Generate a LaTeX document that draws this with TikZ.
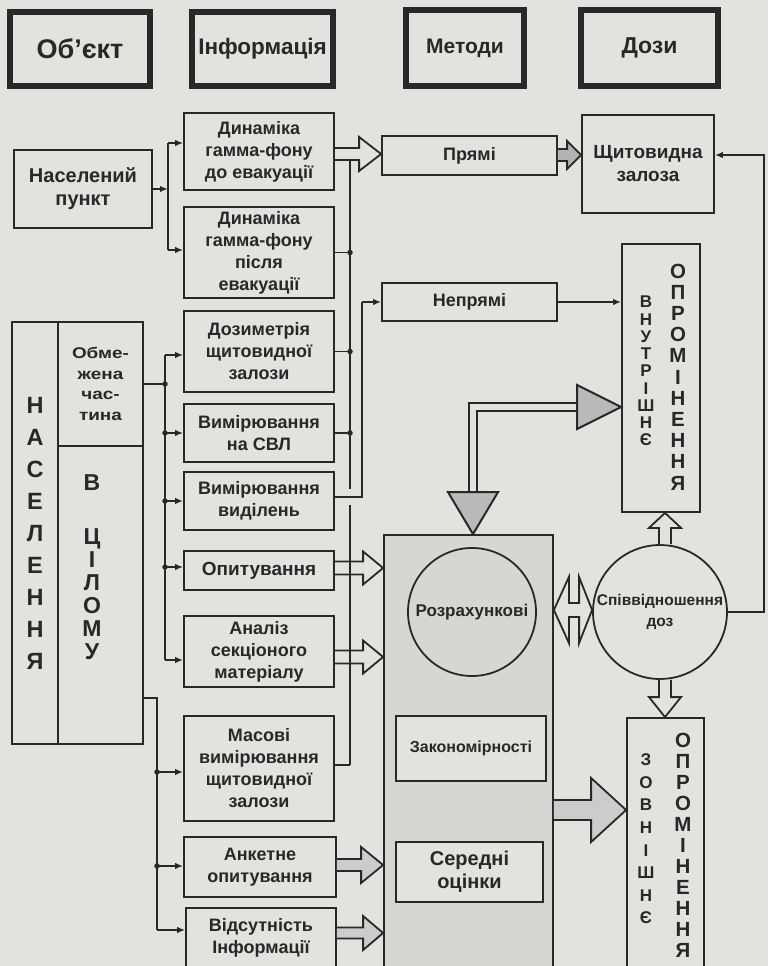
\documentclass[tikz,border=0pt]{standalone}
\usepackage{fontspec}
\setmainfont{Liberation Sans}
\usetikzlibrary{arrows.meta,calc}
\definecolor{bg}{RGB}{226,226,223}
\definecolor{ink}{RGB}{40,40,40}
\definecolor{calcbg}{RGB}{214,214,211}
\newcommand\fs[2]{\fontsize{#1}{#2}\selectfont\bfseries}
\newcommand\bx[6][]{\node[box,#1,minimum width={(#5-#3)*1pt},minimum height={(#6-#4)*1pt}] (#2) at ({(#3+#5)/2},{(#4+#6)/2})}
% hollow block arrows
\newcommand\arrR[7][]{\draw[hollow,#1] let \p1=#2, \p2=#3, \p3=#4 in (\x1,\y3+#5) -- (\x2-#7,\y3+#5) -- (\x2-#7,\y3+#6) -- (\x2,\y3) -- (\x2-#7,\y3-#6) -- (\x2-#7,\y3-#5) -- (\x1,\y3-#5);}
\newcommand\arrU[7][]{\draw[hollow,#1] let \p1=#2, \p2=#3, \p3=#4 in (\x3+#5,\y1) -- (\x3+#5,\y2-#7) -- (\x3+#6,\y2-#7) -- (\x3,\y2) -- (\x3-#6,\y2-#7) -- (\x3-#5,\y2-#7) -- (\x3-#5,\y1);}
\newcommand\arrD[7][]{\draw[hollow,#1] let \p1=#2, \p2=#3, \p3=#4 in (\x3+#5,\y1) -- (\x3+#5,\y2+#7) -- (\x3+#6,\y2+#7) -- (\x3,\y2) -- (\x3-#6,\y2+#7) -- (\x3-#5,\y2+#7) -- (\x3-#5,\y1);}
\newcommand\arrLR[8][]{\draw[hollow,#1] let \p1=#2, \p2=#3, \p3=#4 in (\x1,\y3) -- (\x1+#7,\y3+#6) -- (\x1+#7,\y3+#5) -- (\x2-#8,\y3+#5) -- (\x2-#8,\y3+#6) -- (\x2,\y3) -- (\x2-#8,\y3-#6) -- (\x2-#8,\y3-#5) -- (\x1+#7,\y3-#5) -- (\x1+#7,\y3-#6) -- cycle;}
\begin{document}
\begin{tikzpicture}[x=1pt,y=-1pt,line width=1.8pt,color=ink,
  box/.style={draw,fill=bg,align=center,inner sep=0pt,font=\fs{18}{22}},
  hdr/.style={box,line width=5.5pt},
  arr/.style={-{Latex[length=8pt,width=6.5pt]}},
  hollow/.style={draw,line width=1.8pt,line join=miter},
  dot/.style={circle,fill,inner sep=0pt,minimum size=5.5pt},
  txt/.style={inner sep=0pt,align=center}]
\useasboundingbox (0,0) rectangle (768,966);
\clip (0,0) rectangle (768,966);
\fill[bg] (0,0) rectangle (768,966);

% headers
\bx[hdr,font=\fs{27}{30}]{hobj}{10}{12}{150}{86}{Об’єкт};
\bx[hdr,font=\fs{22.5}{25}]{hinf}{192}{12}{333}{86}{Інформація};
\bx[hdr,font=\fs{21}{24}]{hmet}{406}{10}{524}{86}{Методи};
\bx[hdr,font=\fs{23}{26}]{hdoz}{581}{10}{718}{86}{Дози};

% object column
\bx[font=\fs{20}{23}]{np}{14}{150}{152}{228}{Населений\\пункт};
\bx[font=\fs{23.5}{32}]{nas}{12}{322}{58}{744}{Н\\А\\С\\Е\\Л\\Е\\Н\\Н\\Я};
\bx[font=\fs{15.5}{20.5}\addfontfeature{FakeStretch=1.22}]{obm}{58}{322}{143}{446}{Обме-\\жена\\час-\\тина};
\bx{vc}{58}{446}{143}{744}{};
\node[txt,font=\fs{23}{23}] (vcB) at (92,483) {В};
\node[txt,font=\fs{23}{23}] (vcC) at (92,594) {Ц\\І\\Л\\О\\М\\У};

% information column
\bx{d1}{184}{113}{334}{190}{Динаміка\\гамма-фону\\до евакуації};
\bx{d2}{184}{207}{334}{298}{Динаміка\\гамма-фону\\після\\евакуації};
\bx{dz}{184}{311}{334}{392}{Дозиметрія\\щитовидної\\залози};
\bx{svl}{184}{404}{334}{462}{Вимірювання\\на СВЛ};
\bx{vyd}{184}{472}{334}{530}{Вимірювання\\виділень};
\bx[font=\fs{19}{22}]{opyt}{184}{551}{334}{590}{Опитування};
\bx{anal}{184}{616}{334}{687}{Аналіз\\секціоного\\матеріалу};
\bx{mas}{184}{716}{334}{821}{Масові\\вимірювання\\щитовидної\\залози};
\bx{ank}{184}{837}{336}{897}{Анкетне\\опитування};
\bx{vids}{186}{908}{336}{968}{Відсутність\\Інформації};

% methods
\bx{pryami}{382}{136}{557}{175}{Прямі};
\bx{nepr}{382}{283}{557}{321}{Непрямі};
\bx[fill=calcbg]{calc}{384}{535}{553}{975}{};
\node[circle,draw,fill=calcbg,minimum size=128pt,inner sep=0pt,font=\fs{17}{19}] (rozr) at (472,612) {Розрахункові};
\bx[font=\fs{16}{18}]{zak}{396}{716}{546}{781}{Закономірності};
\bx[font=\fs{20}{23}]{ser}{396}{842}{543}{902}{Середні\\оцінки};

% doses
\bx[font=\fs{19}{23}]{shch}{582}{115}{714}{213}{Щитовидна\\залоза};
\bx{vnutr}{622}{244}{700}{512}{};
\node[txt,font=\fs{17}{17.25}] (vnA) at (646,371) {В\\Н\\У\\Т\\Р\\І\\Ш\\Н\\Є};
\node[txt,font=\fs{20.5}{21.2}] (vnB) at (678,377) {О\\П\\Р\\О\\М\\І\\Н\\Е\\Н\\Н\\Я};
\node[circle,draw,fill=bg,minimum size=134pt,inner sep=0pt,align=center,font=\fs{15.5}{21}] (spiv) at (660,612) {Співвідношення\\доз};
\bx{zovn}{627}{718}{704}{975}{};
\node[txt,font=\fs{17}{22.6}] (zoA) at (646,839) {З\\О\\В\\Н\\І\\Ш\\Н\\Є};
\node[txt,font=\fs{20.5}{21}] (zoB) at (683,845) {О\\П\\Р\\О\\М\\І\\Н\\Е\\Н\\Н\\Я};

% hollow block arrows
\arrR{(d1.east)}{(pryami.west)}{(0,154)}{6pt}{17pt}{22pt}
\arrR[fill=gray!60]{(pryami.east)}{(shch.west)}{(0,155)}{6pt}{14pt}{14pt}
\arrR{(opyt.east)}{(calc.west)}{(0,568)}{6.5pt}{16.5pt}{20pt}
\arrR{(anal.east)}{(calc.west)}{(0,657)}{6.5pt}{16.5pt}{20pt}
\arrR[fill=gray!40]{(ank.east)}{(calc.west)}{(0,865)}{6pt}{18pt}{22pt}
\arrR[fill=gray!40]{(vids.east)}{(calc.west)}{(0,933)}{5.5pt}{17pt}{20pt}
\arrR[fill=gray!40]{(calc.east)}{(zovn.west)}{(0,810)}{10pt}{32pt}{35pt}
\arrLR[fill=bg]{(calc.east)}{(spiv.west)}{(0,610)}{7pt}{33pt}{15pt}{13pt}
\arrU[fill=bg]{(spiv.north)}{(vnutr.south)}{(665,0)}{6pt}{16pt}{15pt}
\arrD[fill=bg]{(spiv.south)}{(zovn.north)}{(665,0)}{6pt}{16pt}{20pt}

% big double L arrow between calculation block and internal exposure
\coordinate (lb) at (473,407);
\draw[line width=2.4pt,double=bg,double distance=5.5pt] ($(lb |- calc.north)+(0,-41)$) -- (lb) -- ($(lb -| vnutr.west)+(-43,0)$);
\filldraw[fill=gray!55,line width=2pt,line join=miter] (lb |- calc.north) -- ++(-25,-42) -- ++(50,0) -- cycle;
\filldraw[fill=gray!55,line width=2pt,line join=miter] (lb -| vnutr.west) -- ++(-44,-22) -- ++(0,44) -- cycle;

% bus from settlement
\coordinate (a1) at (168,143);
\coordinate (a2) at (168,250);
\draw (a1) -- (a2);
\draw[arr] (np.east) -- (np.east -| a1);
\draw[arr] (a1) -- (a1 -| d1.west);
\draw[arr] (a2) -- (a2 -| d2.west);

% bus from limited part
\coordinate (b1t) at (165,355);
\coordinate (b1b) at (165,660);
\draw (b1t) -- (b1b);
\draw (obm.east) -- (obm.east -| b1t);
\node[dot] (bd0) at (obm.east -| b1t) {};
\draw[arr] (b1t) -- (b1t -| dz.west);
\draw[arr] (b1t |- svl.west) -- (svl.west);
\node[dot] (bd1) at (b1t |- svl.west) {};
\draw[arr] (b1t |- vyd.west) -- (vyd.west);
\node[dot] (bd2) at (b1t |- vyd.west) {};
\draw[arr] (b1t |- 0,567) -- (opyt.west |- 0,567);
\node[dot] (bd3) at (b1t |- 0,567) {};
\draw[arr] (b1b) -- (b1b -| anal.west);

% bus from population as a whole
\coordinate (c0) at (157,698);
\coordinate (c1) at (157,772);
\coordinate (c2) at (157,866);
\coordinate (c3) at (157,930);
\draw (vc.east |- c0) -- (c0) -- (c3);
\draw[arr] (c1) -- (c1 -| mas.west);
\node[dot] (cd1) at (c1) {};
\draw[arr] (c2) -- (c2 -| ank.west);
\node[dot] (cd2) at (c2) {};
\draw[arr] (c3) -- (c3 -| vids.west);

% bus to direct methods
\coordinate (r0) at (350,160);
\coordinate (r1) at (350,489);
\coordinate (r2) at (350,505);
\coordinate (r3) at (350,765);
\draw (r0) -- (r1);
\draw (r2) -- (r3);
\draw (d2.east) -- (d2.east -| r0);
\node[dot] (rd1) at (d2.east -| r0) {};
\draw (dz.east) -- (dz.east -| r0);
\node[dot] (rd2) at (dz.east -| r0) {};
\draw (svl.east) -- (svl.east -| r0);
\node[dot] (rd3) at (svl.east -| r0) {};
\draw (mas.east |- r3) -- (r3);

% bus to indirect methods
\coordinate (s0) at (362,302);
\coordinate (s1) at (362,497);
\draw (vyd.east |- s1) -- (s1) -- (s0);
\draw[arr] (s0) -- (s0 -| nepr.west);
\draw[arr] (nepr.east) -- (nepr.east -| vnutr.west);

% feedback from dose ratio to thyroid
\coordinate (fb) at (764,155);
\draw[arr] (spiv.east) -| (fb) -- (fb -| shch.east);
\end{tikzpicture}
\end{document}
